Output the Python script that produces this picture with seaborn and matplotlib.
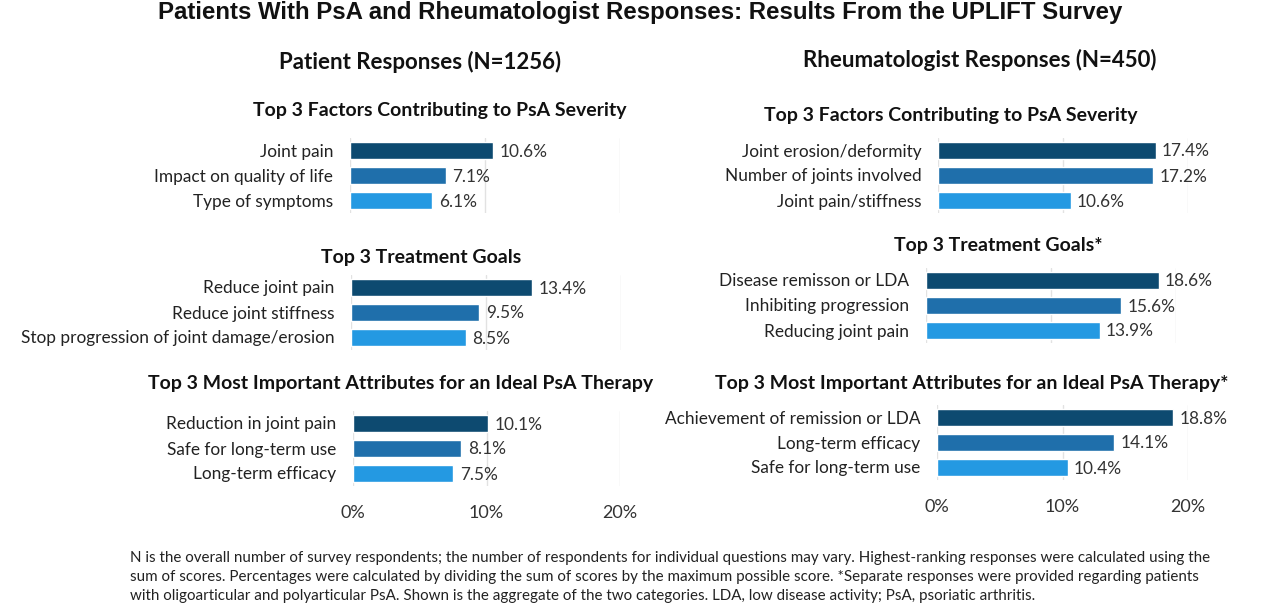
import numpy as np
import pandas as pd
import matplotlib.pyplot as plt
import seaborn as sns

# Data
pat_severity_labels = ["Joint pain", "Impact on quality of life", "Type of symptoms"]
pat_severity_vals = [10.6, 7.1, 6.1]
pat_goals_labels = ["Reduce joint pain", "Reduce joint stiffness", "Stop progression of joint damage/erosion"]
pat_goals_vals = [13.4, 9.5, 8.5]
pat_attr_labels = ["Reduction in joint pain", "Safe for long-term use", "Long-term efficacy"]
pat_attr_vals = [10.1, 8.1, 7.5]

rheum_severity_labels = ["Joint erosion/deformity", "Number of joints involved", "Joint pain/stiffness"]
rheum_severity_vals = [17.4, 17.2, 10.6]
rheum_goals_labels = ["Disease remisson or LDA", "Inhibiting progression", "Reducing joint pain"]
rheum_goals_vals = [18.6, 15.6, 13.9]
rheum_attr_labels = ["Achievement of remission or LDA", "Long-term efficacy", "Safe for long-term use"]
rheum_attr_vals = [18.8, 14.1, 10.4]

panel_titles_left = ["Top 3 Factors Contributing to PsA Severity", "Top 3 Treatment Goals",
                     "Top 3 Most Important Attributes for an Ideal PsA Therapy"]
panel_titles_right = ["Top 3 Factors Contributing to PsA Severity", "Top 3 Treatment Goals*",
                      "Top 3 Most Important Attributes for an Ideal PsA Therapy*"]
x_ticks = [0, 10, 20]
x_tick_labels = ["0%", "10%", "20%"]

colors = ["#0d4a70", "#1f6fab", "#2499e2"]

W, H = 1280, 605
sns.set_theme(style="white")
plt.rcParams['font.family'] = ['Lato', 'DejaVu Sans']
fig = plt.figure(figsize=(W / 100, H / 100), dpi=100)


def add_axes(x0, x1, y_top, y_bot):
    return fig.add_axes([x0 / W, 1 - y_bot / H, (x1 - x0) / W, (y_bot - y_top) / H])


panels = [
    # (labels, values, x0, x1, ytop, ybot, title, title_x, title_y, show_ticks)
    (pat_severity_labels, pat_severity_vals, 350, 620, 137.5, 213, panel_titles_left[0], 440, 110, False),
    (pat_goals_labels, pat_goals_vals, 351, 621, 274.5, 349.5, panel_titles_left[1], 421, 258, False),
    (pat_attr_labels, pat_attr_vals, 353, 620, 410.5, 485.5, panel_titles_left[2], 401, 383, True),
    (rheum_severity_labels, rheum_severity_vals, 938, 1188, 137.5, 212.5, panel_titles_right[0], 951, 115, False),
    (rheum_goals_labels, rheum_goals_vals, 926, 1176, 267.5, 342.5, panel_titles_right[1], 998, 245, False),
    (rheum_attr_labels, rheum_attr_vals, 937, 1188, 404.5, 479.5, panel_titles_right[2], 972, 383, True),
]

for labels, vals, x0, x1, yt, yb, title, tx, ty, show_ticks in panels:
    ax = add_axes(x0, x1, yt, yb)
    df = pd.DataFrame({"label": labels, "value": vals})
    sns.barplot(data=df, x="value", y="label", hue="label", palette=colors, saturation=1,
                orient="h", width=0.68, legend=False, ax=ax)
    ax.set_xlim(0, 20)
    ax.set_ylim(2.5, -0.5)
    ax.set_xlabel("")
    ax.set_ylabel("")
    for s in ax.spines.values():
        s.set_visible(False)
    for gx in x_ticks:
        ax.axvline(gx, color="#e2e2e2", lw=1, zorder=0)
    ax.tick_params(axis="y", length=0, pad=12, labelsize=12.4, labelcolor="#222222")
    for i, v in enumerate(vals):
        ax.text(v + 0.5, i, f"{v:.1f}%", va="center_baseline", ha="left", fontsize=12.4,
                color="#333333")
    if show_ticks:
        ax.set_xticks(x_ticks)
        ax.set_xticklabels(x_tick_labels)
        ax.tick_params(axis="x", length=0, pad=14, labelsize=13, labelcolor="#333333")
    else:
        ax.set_xticks([])
    fig.text(tx / W, 1 - ty / H, title, ha="center", va="center", fontsize=14,
             fontweight="bold", color="#111111")

fig.text(640 / W, 1 - 12 / H, "Patients With PsA and Rheumatologist Responses: Results From the UPLIFT Survey",
         ha="center", va="center", fontsize=17.3, fontweight="bold", color="#111111",
         family=["Liberation Sans", "DejaVu Sans"])
fig.text(420 / W, 1 - 62 / H, "Patient Responses (N=1256)", ha="center", va="center",
         fontsize=16, fontweight="bold", color="#111111")
fig.text(980 / W, 1 - 60 / H, "Rheumatologist Responses (N=450)", ha="center", va="center",
         fontsize=16, fontweight="bold", color="#111111")

footnote = [
    "N is the overall number of survey respondents; the number of respondents for individual questions may vary. "
    "Highest-ranking responses were calculated using the",
    "sum of scores. Percentages were calculated by dividing the sum of scores by the maximum possible score. "
    "*Separate responses were provided regarding patients",
    "with oligoarticular and polyarticular PsA. Shown is the aggregate of the two categories. "
    "LDA, low disease activity; PsA, psoriatic arthritis.",
]
for k, line in enumerate(footnote):
    fig.text(130 / W, 1 - (558 + 19 * k) / H, line, ha="left", va="center", fontsize=10.9,
             color="#222222")

fig.savefig("out.png", dpi=100)
